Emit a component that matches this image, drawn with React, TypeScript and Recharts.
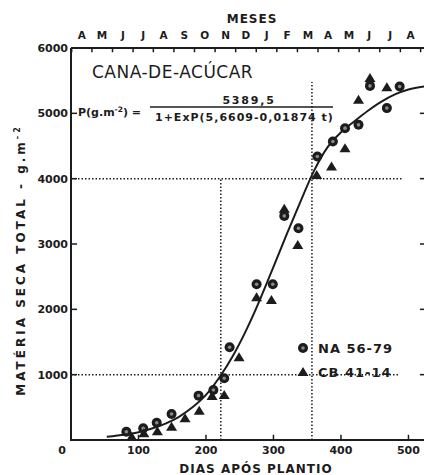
import { ComposedChart, Line, Scatter, XAxis, YAxis, ReferenceLine } from 'recharts';

// eixo x em dias após plantio, eixo y em g.m-2
const dayTicks = [0, 100, 200, 300, 400, 500];
const valueTicks = [1000, 2000, 3000, 4000, 5000, 6000];
const rightTicks = [1000, 2000, 3000, 4000, 5000];
const monthLabels = ['A', 'M', 'J', 'J', 'A', 'S', 'O', 'N', 'D', 'J', 'F', 'M', 'A', 'M', 'J', 'J', 'A'];
const monthCenters = [16, 46, 77, 107, 137, 168, 198, 229, 259, 290, 320, 351, 381, 412, 442, 473, 503];

const na5679 = [
  { d: 82, p: 127 },
  { d: 107, p: 179 },
  { d: 127, p: 265 },
  { d: 149, p: 398 },
  { d: 189, p: 679 },
  { d: 211, p: 766 },
  { d: 227, p: 945 },
  { d: 235, p: 1420 },
  { d: 275, p: 2384 },
  { d: 299, p: 2384 },
  { d: 316, p: 3430 },
  { d: 337, p: 3242 },
  { d: 365, p: 4339 },
  { d: 388, p: 4568 },
  { d: 406, p: 4773 },
  { d: 426, p: 4824 },
  { d: 443, p: 5420 },
  { d: 468, p: 5080 },
  { d: 487, p: 5411 },
];

const cb4114 = [
  { d: 90, p: 50 },
  { d: 108, p: 105 },
  { d: 128, p: 135 },
  { d: 149, p: 204 },
  { d: 169, p: 332 },
  { d: 190, p: 449 },
  { d: 209, p: 674 },
  { d: 227, p: 689 },
  { d: 249, p: 1266 },
  { d: 275, p: 2185 },
  { d: 297, p: 2144 },
  { d: 316, p: 3540 },
  { d: 336, p: 2986 },
  { d: 364, p: 4058 },
  { d: 386, p: 4186 },
  { d: 406, p: 4467 },
  { d: 426, p: 5207 },
  { d: 443, p: 5540 },
  { d: 468, p: 5400 },
];

// curva ajustada
const fitted = [
  { d: 53, p: 50 },
  { d: 80, p: 85 },
  { d: 100, p: 120 },
  { d: 120, p: 175 },
  { d: 140, p: 250 },
  { d: 160, p: 355 },
  { d: 180, p: 500 },
  { d: 200, p: 690 },
  { d: 220, p: 960 },
  { d: 240, p: 1290 },
  { d: 260, p: 1690 },
  { d: 280, p: 2150 },
  { d: 300, p: 2650 },
  { d: 320, p: 3160 },
  { d: 340, p: 3650 },
  { d: 360, p: 4120 },
  { d: 380, p: 4480 },
  { d: 400, p: 4710 },
  { d: 420, p: 4880 },
  { d: 440, p: 5040 },
  { d: 460, p: 5180 },
  { d: 480, p: 5290 },
  { d: 500, p: 5365 },
  { d: 526, p: 5415 },
];

const X_MAX = 526;
const Y_MAX = 6000;

const monthBounds = [
  monthCenters[0] - 15,
  ...monthCenters.slice(1).map((c, i) => (c + monthCenters[i]) / 2),
  monthCenters[monthCenters.length - 1] + 15,
];

const INK = '#1c1c1c';
const FONT = '"DejaVu Sans", sans-serif';

function DayTick(props: any) {
  const { x, y, payload } = props;
  return (
    <text x={payload.value === 0 ? x - 9 : x} y={y} dy="0.75em" textAnchor="middle"
      fontFamily={FONT} fontWeight="bold" fontSize={11} fill={INK}>
      {payload.value}
    </text>
  );
}

function ValueTick(props: any) {
  const { x, y, payload } = props;
  return (
    <text x={x} y={y} dy="0.36em" textAnchor="end" fontFamily={FONT} fontWeight="bold" fontSize={11} fill={INK}>
      {payload.value}
    </text>
  );
}

function MonthTick(props: any) {
  const { x, payload } = props;
  const i = monthCenters.indexOf(payload.value);
  return (
    <text x={x} y={39} textAnchor="middle" fontFamily={FONT} fontWeight="bold" fontSize={10.5} fill={INK}>
      {monthLabels[i]}
    </text>
  );
}

function Blank() {
  return <g />;
}

function Circle(props: any) {
  const { cx, cy } = props;
  return (
    <g>
      <circle cx={cx} cy={cy} r={5} fill={INK} />
      <circle cx={cx} cy={cy} r={1.8} fill="#8a8a8a" />
    </g>
  );
}

function Triangle(props: any) {
  const { cx, cy } = props;
  return <path d={`M${cx},${cy - 5} L${cx + 5.5},${cy + 4} L${cx - 5.5},${cy + 4} Z`} fill={INK} />;
}

// traço longo: desenha como linha contínua
const frame = { stroke: INK, strokeWidth: 2, strokeDasharray: '600 1' };
const mark = { stroke: INK, strokeWidth: 1.5, strokeDasharray: '600 1' };
const dots = { stroke: INK, strokeWidth: 1.5, strokeDasharray: '1.5 2' };

export default function App() {
  return (
    <div style={{ position: 'absolute', left: 0, top: 0, width: 424, height: 475, overflow: 'hidden', background: '#fff' }}>
      <ComposedChart width={442} height={475} margin={{ top: 2, right: 2, bottom: 2, left: 2 }}>
        <XAxis
          dataKey="d"
          type="number"
          domain={[0, X_MAX]}
          allowDataOverflow
          ticks={dayTicks}
          height={33}
          axisLine={false}
          tickLine={false}
          tickSize={0}
          tickMargin={6}
          tick={<DayTick />}
        />
        <XAxis
          xAxisId="months"
          dataKey="d"
          orientation="top"
          type="number"
          domain={[0, X_MAX]}
          allowDataOverflow
          ticks={monthCenters}
          interval={0}
          height={46}
          axisLine={false}
          tickLine={false}
          tick={<MonthTick />}
        />
        <YAxis
          type="number"
          domain={[0, Y_MAX]}
          ticks={valueTicks}
          width={69}
          axisLine={false}
          tickLine={false}
          tickSize={0}
          tickMargin={3}
          tick={<ValueTick />}
        />
        <YAxis
          yAxisId="right"
          orientation="right"
          type="number"
          domain={[0, Y_MAX]}
          ticks={rightTicks}
          width={14}
          axisLine={false}
          tickLine={false}
          tick={<Blank />}
        />

        <ReferenceLine segment={[{ x: 0, y: 4000 }, { x: 490, y: 4000 }]} {...dots} />
        <ReferenceLine segment={[{ x: 0, y: 1000 }, { x: 487, y: 1000 }]} {...dots} />
        <ReferenceLine segment={[{ x: 222, y: 0 }, { x: 222, y: 4000 }]} {...dots} />
        <ReferenceLine segment={[{ x: 357, y: 0 }, { x: 357, y: 5480 }]} {...dots} />

        {/* moldura e traços internos dos eixos */}
        <ReferenceLine segment={[{ x: 0, y: 0 }, { x: 0, y: Y_MAX }]} {...frame} />
        <ReferenceLine segment={[{ x: 0, y: 0 }, { x: X_MAX, y: 0 }]} {...frame} />
        <ReferenceLine segment={[{ x: 0, y: Y_MAX }, { x: X_MAX, y: Y_MAX }]} {...frame} />
        {valueTicks.map((v) => (
          <ReferenceLine key={`l${v}`} segment={[{ x: 0, y: v }, { x: 9, y: v }]} {...mark} />
        ))}
        {rightTicks.map((v) => (
          <ReferenceLine key={`r${v}`} segment={[{ x: X_MAX - 9, y: v }, { x: X_MAX, y: v }]} {...mark} />
        ))}
        {dayTicks.slice(1).map((d) => (
          <ReferenceLine key={`b${d}`} segment={[{ x: d, y: 0 }, { x: d, y: 80 }]} {...mark} />
        ))}
        {monthBounds.map((d) => (
          <ReferenceLine key={`t${d}`} segment={[{ x: d, y: Y_MAX }, { x: d, y: Y_MAX - 65 }]} {...mark} />
        ))}

        <Line xAxisId="months" data={fitted} dataKey="p" type="monotone" stroke={INK} strokeWidth={2} dot={false} isAnimationActive={false} />
        <Scatter data={na5679} dataKey="p" shape={Circle} isAnimationActive={false} />
        <Scatter yAxisId="right" data={cb4114} dataKey="p" shape={Triangle} isAnimationActive={false} />
      </ComposedChart>

      <svg width={424} height={475} style={{ position: 'absolute', left: 0, top: 0, pointerEvents: 'none' }}
        fontFamily={FONT} fill={INK}>
        {/* moldura do gráfico */}
        <path d="M71,48 L71,440 L424,440 M71,48 L424,48" fill="none" stroke={INK} strokeWidth={2} />

        <text x={252} y={23} textAnchor="middle" fontWeight="bold" fontSize={12} letterSpacing={1}>MESES</text>
        <text x={256} y={473} textAnchor="middle" fontWeight="bold" fontSize={12} letterSpacing={1}>DIAS APÓS PLANTIO</text>
        <text x={0} y={0} transform="translate(25,260) rotate(-90)" textAnchor="middle" fontWeight="bold" fontSize={12}
          letterSpacing={3}>
          MATÉRIA SECA TOTAL - g.m<tspan dy={-5} fontSize={8}>-2</tspan>
        </text>

        <text x={92} y={78} fontSize={17} letterSpacing={0.5}>CANA-DE-ACÚCAR</text>
        <text x={78} y={116} fontWeight="bold" fontSize={11}>
          P(g.m<tspan dy={-4} fontSize={7.5}>-2</tspan><tspan dy={4}>) =</tspan>
        </text>
        <text x={249} y={104} textAnchor="middle" fontWeight="bold" fontSize={11} letterSpacing={1.8}>5389,5</text>
        <line x1={150} y1={107} x2={333} y2={107} stroke={INK} strokeWidth={1.5} />
        <text x={155} y={121} fontWeight="bold" fontSize={11} letterSpacing={1}>1+ExP(5,6609-0,01874 t)</text>

        <circle cx={303} cy={348} r={5} fill={INK} />
        <circle cx={303} cy={348} r={1.8} fill="#8a8a8a" />
        <text x={318} y={353} fontWeight="bold" fontSize={13} letterSpacing={1}>NA 56-79</text>
        <path d="M303,367 L308.5,376 L297.5,376 Z" fill={INK} />
        <text x={318} y={377} fontWeight="bold" fontSize={13} letterSpacing={1}>CB 41-14</text>
      </svg>
    </div>
  );
}
